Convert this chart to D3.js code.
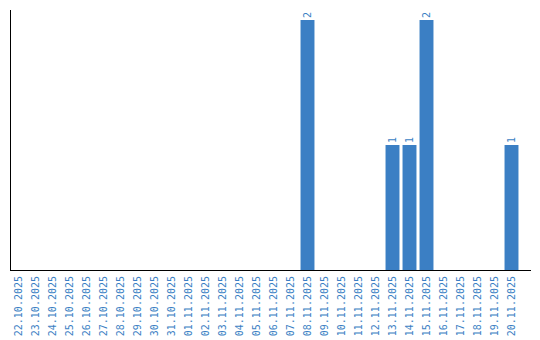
<!DOCTYPE html>
<html>
<head>
<meta charset="utf-8">
<script src="https://cdn.jsdelivr.net/npm/d3@7"></script>
<style>
  html, body { margin: 0; padding: 0; background: #fff; }
  svg { display: block; }
</style>
</head>
<body>
<svg id="chart" width="540" height="340"></svg>
<script>
const categories = [
  "22.10.2025","23.10.2025","24.10.2025","25.10.2025","26.10.2025","27.10.2025",
  "28.10.2025","29.10.2025","30.10.2025","31.10.2025","01.11.2025","02.11.2025",
  "03.11.2025","04.11.2025","05.11.2025","06.11.2025","07.11.2025","08.11.2025",
  "09.11.2025","10.11.2025","11.11.2025","12.11.2025","13.11.2025","14.11.2025",
  "15.11.2025","16.11.2025","17.11.2025","18.11.2025","19.11.2025","20.11.2025"
];
const values = [
  0,0,0,0,0,0,
  0,0,0,0,0,0,
  0,0,0,0,0,2,
  0,0,0,0,1,1,
  2,0,0,0,0,1
];

const svg = d3.select("#chart");
const color = "#3b7fc4";
const font = "'DejaVu Sans Mono', monospace";

const x = d3.scaleBand()
  .domain(categories)
  .range([10, 520])
  .paddingInner(0.18)
  .paddingOuter(0.09);

const y = d3.scaleLinear()
  .domain([0, 2])
  .range([270, 20]);

const data = categories.map((c, i) => ({ c, v: values[i] }));

svg.append("g").selectAll("rect")
  .data(data.filter(d => d.v > 0))
  .join("rect")
  .attr("x", d => x(d.c))
  .attr("width", x.bandwidth())
  .attr("y", d => y(d.v))
  .attr("height", d => y(0) - y(d.v))
  .attr("fill", color);

// value labels
svg.append("g").selectAll("text")
  .data(data.filter(d => d.v > 0))
  .join("text")
  .attr("transform", d => `translate(${x(d.c) + x.bandwidth() / 2 + 3.5},${y(d.v) - 2}) rotate(-90)`)
  .attr("text-anchor", "start")
  .attr("font-family", font)
  .attr("font-size", "10px")
  .attr("fill", color)
  .text(d => d.v);

// x axis
const xAxis = svg.append("g")
  .attr("transform", "translate(0,270)")
  .call(d3.axisBottom(x).tickSize(0).tickPadding(0));
xAxis.select(".domain").remove();
xAxis.selectAll("text")
  .attr("font-family", font)
  .attr("font-size", "10px")
  .attr("fill", color)
  .attr("text-anchor", "end")
  .attr("dy", null)
  .attr("y", 0)
  .attr("x", 0)
  .attr("transform", "translate(3.5,6) rotate(-90)");

// axis lines
svg.append("line")
  .attr("x1", 10.5).attr("x2", 10.5)
  .attr("y1", 10).attr("y2", y(0))
  .attr("stroke", "#000").attr("stroke-width", 1);
svg.append("line")
  .attr("x1", 10).attr("x2", 531)
  .attr("y1", y(0) + 0.5).attr("y2", y(0) + 0.5)
  .attr("stroke", "#000").attr("stroke-width", 1);
</script>
</body>
</html>
